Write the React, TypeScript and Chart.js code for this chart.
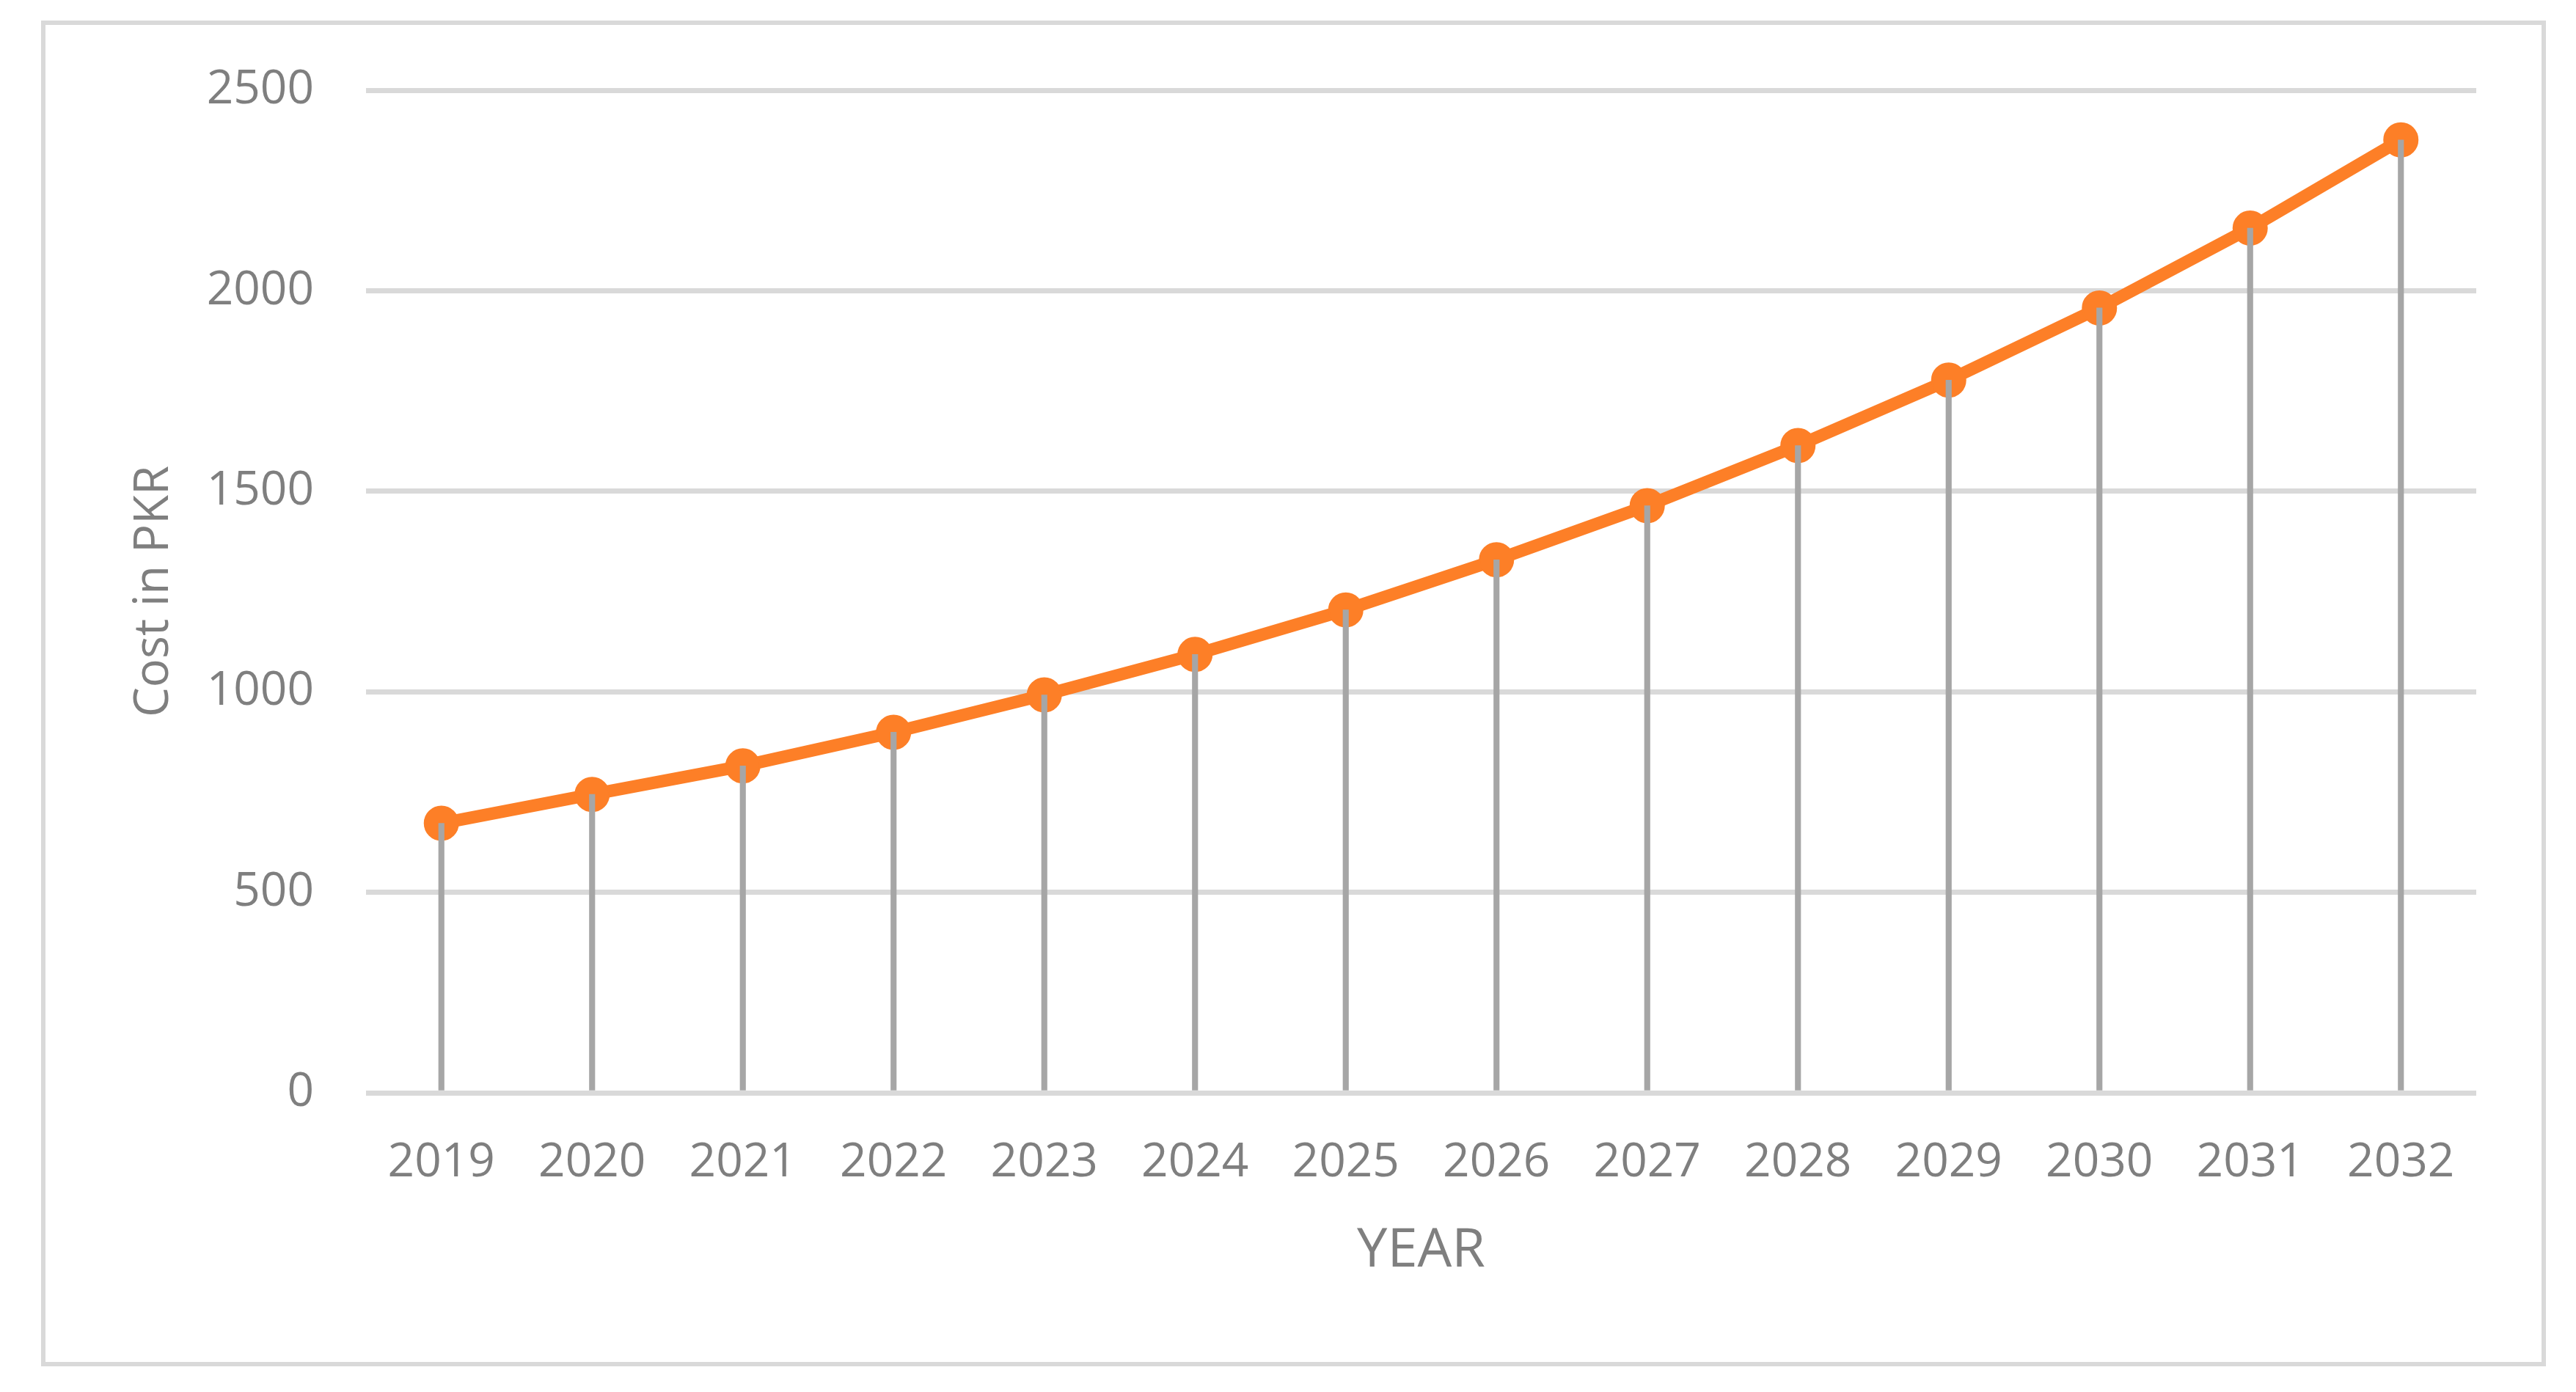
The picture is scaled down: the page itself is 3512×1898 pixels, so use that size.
import React, { useEffect, useRef } from "react";
import { Chart, registerables } from "chart.js";

Chart.register(...registerables);

const years = ["2019", "2020", "2021", "2022", "2023", "2024", "2025", "2026", "2027", "2028", "2029", "2030", "2031", "2032"];
const costValues = [672, 744, 815, 899, 992, 1093, 1204, 1329, 1464, 1614, 1777, 1957, 2156, 2376];
const yTicks = [0, 500, 1000, 1500, 2000, 2500];
const xTitle = "YEAR";
const yTitle = "Cost in PKR";

const W = 3512;
const H = 1898;
const FONT = "'Open Sans', 'Noto Sans', sans-serif";
const TEXT = "#7f7f7f";

export default function App() {
  const ref = useRef<HTMLCanvasElement | null>(null);

  useEffect(() => {
    document.body.style.margin = "0";
    const canvas = ref.current;
    if (!canvas) return;
    const chart = new Chart(canvas, {
      type: "line",
      data: {
        labels: years,
        datasets: [
          {
            type: "bar",
            label: "drop",
            data: costValues,
            backgroundColor: "#a6a6a6",
            borderWidth: 0,
            barThickness: 7.5,
            order: 0,
          } as any,
          {
            type: "line",
            label: "Cost",
            data: costValues,
            borderColor: "#fd7f27",
            backgroundColor: "#fd7f27",
            borderWidth: 17,
            pointRadius: 23,
            pointBorderWidth: 2,
            pointBorderColor: "#fd7f27",
            pointBackgroundColor: "#fd7f27",
            tension: 0,
            order: 1,
          },
        ],
      },
      options: {
        responsive: false,
        animation: false,
        devicePixelRatio: 1,
        layout: { padding: { left: 171, right: 136, top: 123, bottom: 148 } },
        plugins: {
          legend: { display: false },
          tooltip: { enabled: false },
        },
        scales: {
          x: {
            offset: true,
            grid: { display: false, drawTicks: false },
            border: { display: false },
            ticks: {
              color: TEXT,
              font: { family: FONT, size: 64 },
              padding: 57,
              maxRotation: 0,
              autoSkip: false,
            },
            title: {
              display: true,
              text: xTitle,
              color: TEXT,
              font: { family: FONT, size: 74 },
              padding: 0,
            },
            afterFit: (s: any) => {
              s.height = 260;
            },
          },
          y: {
            min: 0,
            max: 2500,
            afterBuildTicks: (s: any) => {
              s.ticks = yTicks.map((v) => ({ value: v }));
            },
            grid: { color: "#d9d9d9", lineWidth: 7, drawTicks: false },
            border: { display: false },
            ticks: {
              color: TEXT,
              font: { family: FONT, size: 64 },
              padding: 71,
              callback: (v: any) => String(v),
            },
            title: {
              display: true,
              text: yTitle,
              color: TEXT,
              font: { family: FONT, size: 65 },
              padding: 0,
            },
            afterFit: (s: any) => {
              s.width = 328;
            },
          },
        },
      },
    });
    return () => chart.destroy();
  }, []);

  return (
    <div style={{ position: "absolute", left: 0, top: 0, width: W, height: H, background: "#ffffff" }}>
      <div
        style={{
          position: "absolute",
          left: 56,
          top: 28,
          width: 3415,
          height: 1835,
          border: "6px solid #d9d9d9",
          boxSizing: "border-box",
        }}
      />
      <canvas ref={ref} width={W} height={H} style={{ position: "absolute", left: 0, top: 0, width: W, height: H }} />
    </div>
  );
}
